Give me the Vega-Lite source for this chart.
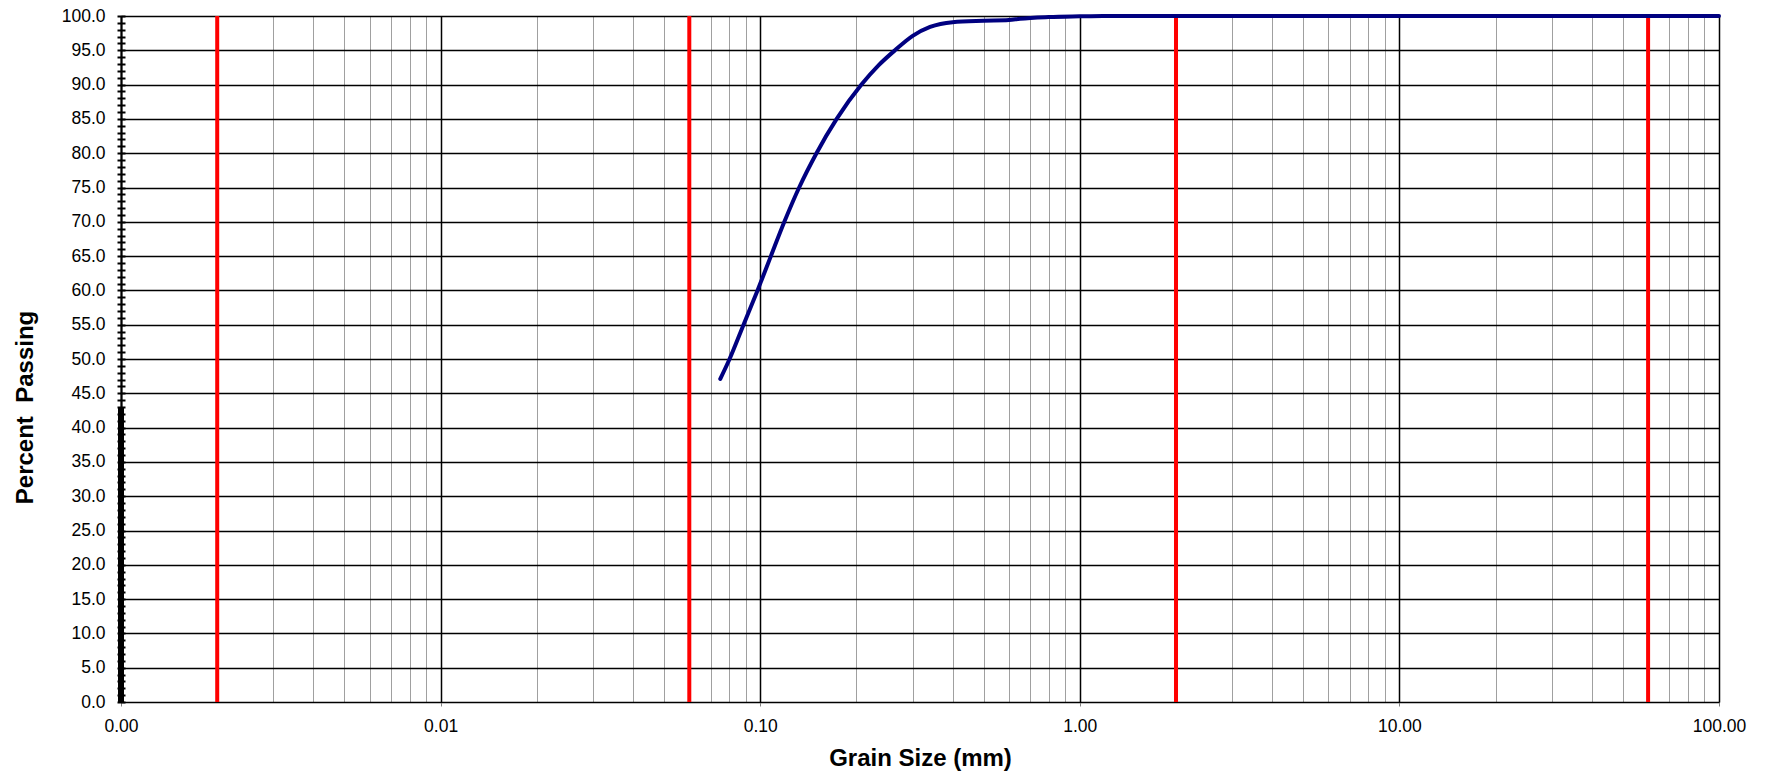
{
  "$schema": "https://vega.github.io/schema/vega-lite/v6.json",
  "width": 1598,
  "height": 686,
  "autosize": {"type": "none"},
  "padding": {"left": 121, "top": 16, "right": 49, "bottom": 71},
  "background": "white",
  "config": {
    "view": {"stroke": null},
    "font": "Liberation Sans",
    "axis": {"labelFont": "Liberation Sans", "titleFont": "Liberation Sans"}
  },
  "datasets": {
    "boundaries": [{"size": 0.002}, {"size": 0.06}, {"size": 2}, {"size": 60}],
    "curve": [
      {"size": 0.075, "passing": 47.1},
      {"size": 0.0802, "passing": 50},
      {"size": 0.0887, "passing": 55},
      {"size": 0.0981, "passing": 60},
      {"size": 0.108, "passing": 65},
      {"size": 0.119, "passing": 70},
      {"size": 0.1324, "passing": 75},
      {"size": 0.15, "passing": 80},
      {"size": 0.1735, "passing": 85},
      {"size": 0.2074, "passing": 90},
      {"size": 0.2345, "passing": 92.8},
      {"size": 0.264, "passing": 95},
      {"size": 0.3, "passing": 97.1},
      {"size": 0.34, "passing": 98.4},
      {"size": 0.4, "passing": 99.1},
      {"size": 0.5, "passing": 99.3},
      {"size": 0.6, "passing": 99.4},
      {"size": 0.65, "passing": 99.6},
      {"size": 0.8, "passing": 99.85},
      {"size": 1.0, "passing": 99.95},
      {"size": 1.18, "passing": 100},
      {"size": 2.36, "passing": 100},
      {"size": 4.75, "passing": 100},
      {"size": 9.5, "passing": 100},
      {"size": 19, "passing": 100},
      {"size": 37.5, "passing": 100},
      {"size": 75, "passing": 100},
      {"size": 100, "passing": 100}
    ],
    "axisBand": [{"size": 0.001, "low": 0, "high": 43}]
  },
  "layer": [
    {
      "data": {"name": "boundaries"},
      "mark": {"type": "rule", "color": "#ff0000", "strokeWidth": 4},
      "encoding": {
        "x": {
          "field": "size",
          "type": "quantitative",
          "scale": {"type": "log", "domain": [0.001, 100], "nice": false},
          "axis": {
            "orient": "bottom",
            "values": [0.001, 0.002, 0.003, 0.004, 0.005, 0.006, 0.007, 0.008, 0.009, 0.01, 0.02, 0.03, 0.04, 0.05, 0.06, 0.07, 0.08, 0.09, 0.1, 0.2, 0.3, 0.4, 0.5, 0.6, 0.7, 0.8, 0.9, 1, 2, 3, 4, 5, 6, 7, 8, 9, 10, 20, 30, 40, 50, 60, 70, 80, 90, 100],
            "labelExpr": "abs(log(datum.value)/LN10 - round(log(datum.value)/LN10)) < 0.001 ? format(datum.value, '.2f') : ''",
            "labelOverlap": false,
            "labelFlush": false,
            "labelFontSize": 17.5,
            "labelColor": "#000000",
            "labelPadding": 11,
            "tickSize": 4,
            "tickColor": "#808080",
            "tickOpacity": {"condition": {"test": "abs(log(datum.value)/LN10 - round(log(datum.value)/LN10)) < 0.001", "value": 1}, "value": 0},
            "grid": true,
            "gridColor": {"condition": {"test": "abs(log(datum.value)/LN10 - round(log(datum.value)/LN10)) < 0.001", "value": "#000000"}, "value": "#a0a0a0"},
            "gridWidth": {"condition": {"test": "abs(log(datum.value)/LN10 - round(log(datum.value)/LN10)) < 0.001", "value": 1.5}, "value": 1},
            "gridOpacity": 1,
            "domainColor": "#000000",
            "domainWidth": 1,
            "title": "Grain Size (mm)",
            "titleFontSize": 24,
            "titleFontWeight": "bold",
            "titleColor": "#000000",
            "titleBaseline": "alphabetic",
            "titleY": 63
          }
        }
      }
    },
    {
      "data": {"name": "curve"},
      "mark": {"type": "line", "color": "#000080", "strokeWidth": 4, "interpolate": "monotone", "strokeCap": "round"},
      "encoding": {
        "x": {"field": "size", "type": "quantitative", "scale": {"type": "log", "domain": [0.001, 100], "nice": false}, "axis": null},
        "y": {
          "field": "passing",
          "type": "quantitative",
          "scale": {"domain": [0, 100], "nice": false, "zero": true},
          "axis": {
            "orient": "left",
            "values": [0, 5, 10, 15, 20, 25, 30, 35, 40, 45, 50, 55, 60, 65, 70, 75, 80, 85, 90, 95, 100],
            "format": ".1f",
            "grid": true,
            "gridColor": "#000000",
            "gridWidth": 1.5,
            "gridOpacity": 1,
            "ticks": false,
            "tickSize": 0,
            "domain": true,
            "domainColor": "#000000",
            "domainWidth": 2,
            "labelFontSize": 17.5,
            "labelColor": "#000000",
            "labelPadding": 16,
            "labelFlush": false,
            "labelOverlap": false,
            "title": "Percent\u00a0 Passing",
            "titleFontSize": 24,
            "titleFontWeight": "bold",
            "titleColor": "#000000",
            "titleAngle": 270,
            "titleAlign": "center",
            "titleBaseline": "alphabetic",
            "titleX": -89,
            "titleY": 391
          }
        }
      }
    },
    {
      "data": {"name": "axisBand"},
      "mark": {"type": "rule", "color": "#000000", "strokeWidth": 6},
      "encoding": {
        "x": {"field": "size", "type": "quantitative", "scale": {"type": "log", "domain": [0.001, 100], "nice": false}, "axis": null},
        "y": {
          "field": "low",
          "type": "quantitative",
          "scale": {"domain": [0, 100], "nice": false},
          "axis": {
            "orient": "left",
            "offset": -4,
            "values": [0, 1, 2, 3, 4, 5, 6, 7, 8, 9, 10, 11, 12, 13, 14, 15, 16, 17, 18, 19, 20, 21, 22, 23, 24, 25, 26, 27, 28, 29, 30, 31, 32, 33, 34, 35, 36, 37, 38, 39, 40, 41, 42, 43, 44, 45, 46, 47, 48, 49, 50, 51, 52, 53, 54, 55, 56, 57, 58, 59, 60, 61, 62, 63, 64, 65, 66, 67, 68, 69, 70, 71, 72, 73, 74, 75, 76, 77, 78, 79, 80, 81, 82, 83, 84, 85, 86, 87, 88, 89, 90, 91, 92, 93, 94, 95, 96, 97, 98, 99, 100],
            "labels": false,
            "domain": false,
            "grid": false,
            "ticks": true,
            "tickSize": 8,
            "tickWidth": 2,
            "tickColor": "#000000",
            "title": null
          }
        },
        "y2": {"field": "high"}
      }
    }
  ],
  "resolve": {"axis": {"x": "independent", "y": "independent"}}
}
